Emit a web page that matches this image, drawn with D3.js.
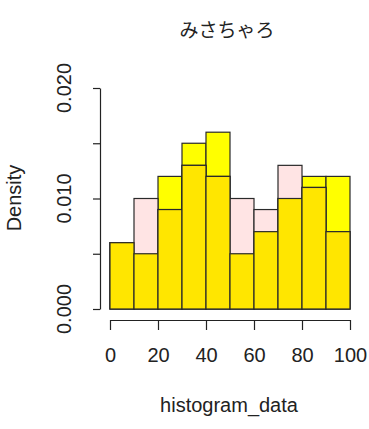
<!DOCTYPE html>
<html>
<head>
<meta charset="utf-8">
<script src="https://cdn.jsdelivr.net/npm/d3@7"></script>
<style>
  body { margin: 0; background: #fff; }
  text { font-family: "Liberation Sans", Arial, sans-serif; fill: #222; }
</style>
</head>
<body>
<div id="chart"></div>
<script>
// bins of width 10 from 0 to 100
const binStarts = [0, 10, 20, 30, 40, 50, 60, 70, 80, 90];
const pinkDensity = [0.006, 0.010, 0.009, 0.013, 0.012, 0.010, 0.009, 0.013, 0.011, 0.007];
const yellowDensity = [0.006, 0.005, 0.012, 0.015, 0.016, 0.005, 0.007, 0.010, 0.012, 0.012];
const xTicks = [0, 20, 40, 60, 80, 100];
const yTicks = [0, 0.005, 0.010, 0.015, 0.020];
const yLabelTicks = [0, 0.010, 0.020];

const svgWidth = 369;
const svgHeight = 429;
const margins = {top: 88, right: 19, bottom: 120, left: 110};

const svg = d3.select("#chart")
  .append("svg")
  .attr("width", svgWidth)
  .attr("height", svgHeight);

const xScale = d3.scaleLinear()
  .domain([0, 100])
  .range([margins.left, svgWidth - margins.right]);

const yScale = d3.scaleLinear()
  .domain([0, 0.020])
  .range([309, margins.top]);

const bins = binStarts.map((b, i) => ({
  x0: b, x1: b + 10,
  pink: pinkDensity[i],
  yellow: yellowDensity[i],
  both: Math.min(pinkDensity[i], yellowDensity[i])
}));

function drawBars(key, colour) {
  svg.append("g")
    .selectAll("rect")
    .data(bins)
    .join("rect")
      .attr("x", d => xScale(d.x0))
      .attr("y", d => yScale(d[key]))
      .attr("width", d => xScale(d.x1) - xScale(d.x0))
      .attr("height", d => yScale(0) - yScale(d[key]))
      .attr("fill", colour)
      .attr("stroke", "#2a2a2a")
      .attr("stroke-width", 1.2);
}

drawBars("yellow", "#ffff00");
drawBars("pink", "#ffe4e4");
// overlap of the two histograms
drawBars("both", "#ffe600");

// x axis
const xAxis = svg.append("g")
  .attr("transform", "translate(0,320)")
  .call(d3.axisBottom(xScale).tickValues(xTicks).tickSize(10).tickPadding(18).tickSizeOuter(0));
xAxis.select(".domain").attr("stroke", "#222").attr("stroke-width", 1.2);
xAxis.selectAll(".tick line").attr("stroke", "#222").attr("stroke-width", 1.2);
xAxis.selectAll("text").attr("font-size", "20px").attr("fill", "#222")
  .attr("font-family", "Liberation Sans, Arial, sans-serif");

// y axis
const yAxis = svg.append("g")
  .attr("transform", "translate(100,0)")
  .call(d3.axisLeft(yScale).tickValues(yTicks).tickSize(7).tickFormat("").tickSizeOuter(0));
yAxis.select(".domain").attr("stroke", "#222").attr("stroke-width", 1.2);
yAxis.selectAll(".tick line").attr("stroke", "#222").attr("stroke-width", 1.2);

svg.append("g")
  .selectAll("text")
  .data(yLabelTicks)
  .join("text")
    .attr("transform", d => "translate(71," + yScale(d) + ") rotate(-90)")
    .attr("text-anchor", "middle")
    .attr("font-size", "20px")
    .text(d => d3.format(".3f")(d));

svg.append("text")
  .attr("x", 227)
  .attr("y", 37)
  .attr("text-anchor", "middle")
  .attr("font-size", "19px")
  .style("font-family", "'Noto Sans CJK JP', sans-serif")
  .text("みさちゃろ");

svg.append("text")
  .attr("x", 229)
  .attr("y", 412)
  .attr("text-anchor", "middle")
  .attr("font-size", "20px")
  .text("histogram_data");

svg.append("text")
  .attr("transform", "translate(21,198) rotate(-90)")
  .attr("text-anchor", "middle")
  .attr("font-size", "20px")
  .text("Density");
</script>
</body>
</html>
